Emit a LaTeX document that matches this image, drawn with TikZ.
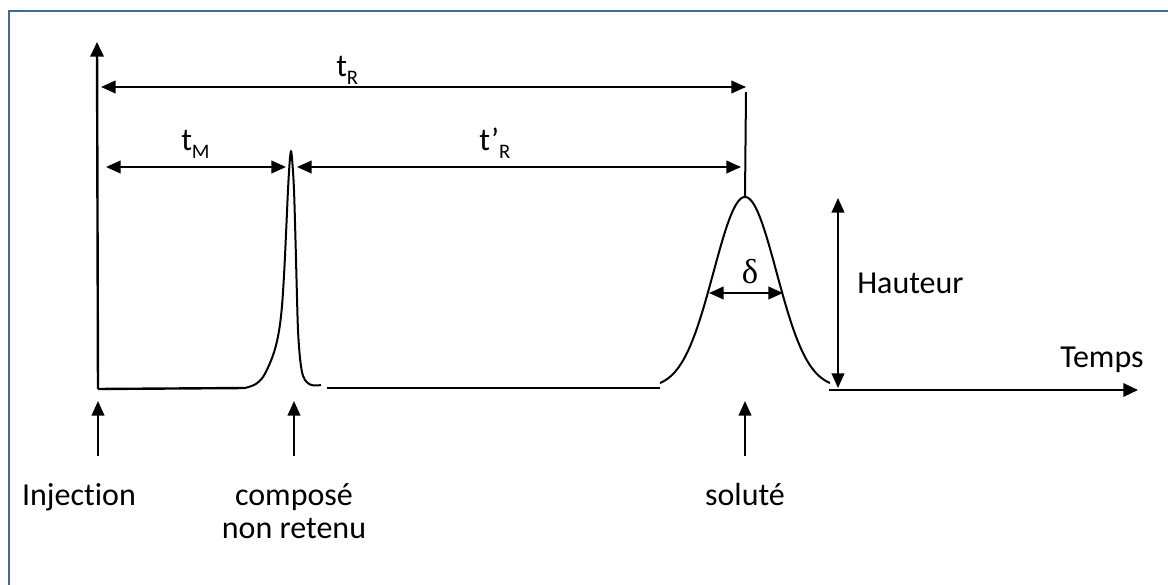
\documentclass[tikz,border=0pt]{standalone}
\usepackage{fontspec}
\setmainfont[Ligatures=NoCommon]{Carlito}
\newfontfamily\greekserif{Liberation Serif}
\usetikzlibrary{arrows.meta}
\definecolor{framecol}{RGB}{65,105,155}
\newcommand\lowsub[1]{\raisebox{-5.5pt}{\fontsize{15.5}{16}\selectfont #1}}
\begin{document}
\begin{tikzpicture}[x=0.75pt,y=-0.75pt,
  curve/.style={line width=1.5pt, line join=round},
  axisline/.style={line width=1.8pt},
  dimarrow/.style={line width=1.5pt, {Triangle[length=11pt,width=9.5pt]}-{Triangle[length=11pt,width=9.5pt]}},
  uparrow/.style={line width=1.5pt, -{Triangle[length=11pt,width=9.5pt]}},
  lbl/.style={font=\fontsize{24}{29}\selectfont, inner sep=0pt},
  ]
\useasboundingbox (0,0) rectangle (1168,585);
\fill[white] (0,0) rectangle (1168,585);
\draw[framecol, line width=2.2pt] (1200,11) -- (9,11) -- (9,620);

% key coordinates
\coordinate (ytop) at (97,42);
\coordinate (origin) at (98,389);
\coordinate (b1) at (245,388);
\coordinate (b2) at (327,388);
\coordinate (b3) at (660,388);
\coordinate (peak2) at (745,197);
\coordinate (tRend) at (746,92);
\coordinate (xs) at (829,390);
\coordinate (xe) at (1138,390);

% axes and baseline
\draw[axisline, -{Triangle[length=11pt,width=10pt]}] (origin) -- (ytop);
\draw[axisline] (origin) -- (b1);
\draw[axisline] (b2) -- (b3);
\draw[axisline, -{Triangle[length=11pt,width=10pt]}] (xs) -- (xe);

% narrow peak (unretained compound)
\draw[curve] plot[smooth, tension=0.55] coordinates {
 (245,388) (255,384.5) (263,377) (270,363) (275,349) (279,331) (282,306)
 (284.3,270) (286.2,230) (288,190) (289.6,163) (291,151) (292.4,163)
 (294,190) (295.5,240) (296.8,290) (298,330) (299.8,356) (302,372)
 (305,380) (310,384.5) (316,385.5) (321,385)};

% solute peak
\draw[curve] plot[domain=660:830, samples=120, smooth] (\x, {388-191*exp(-((\x-745)*(\x-745))/1984.5)});
\draw[line width=1.5pt] (peak2) -- (tRend);

% dimension arrows
\coordinate (tRa) at (101,87);  \coordinate (tRb) at (746,87);
\coordinate (tMa) at (106,167); \coordinate (tMb) at (286,167);
\coordinate (tpa) at (297,167); \coordinate (tpb) at (741,167);
\coordinate (da) at (709,293);  \coordinate (db) at (783,293);
\coordinate (ha) at (838,198);  \coordinate (hb) at (838,388);
\draw[dimarrow] (tRa) -- (tRb);
\draw[dimarrow] (tMa) -- (tMb);
\draw[dimarrow] (tpa) -- (tpb);
\draw[dimarrow] (da) -- (db);
\draw[dimarrow] (ha) -- (hb);

% up arrows
\coordinate (u1a) at (98,456);  \coordinate (u1b) at (98,401);
\coordinate (u2a) at (294,456); \coordinate (u2b) at (294,401);
\coordinate (u3a) at (745,456); \coordinate (u3b) at (745,401);
\draw[uparrow] (u1a) -- (u1b);
\draw[uparrow] (u2a) -- (u2b);
\draw[uparrow] (u3a) -- (u3b);

% labels
\node[lbl, anchor=base west] (ltR) at (336,77) {t\lowsub{R}};
\node[lbl, anchor=base west] (ltM) at (181,151) {t\lowsub{M}};
\node[lbl, anchor=base west] (ltpR) at (479,151) {t’\lowsub{R}};
\node[inner sep=0pt, anchor=base, font=\greekserif\fontsize{26}{28}\selectfont] (ldelta) at (750,283) {δ};
\node[lbl, anchor=base west] (lH) at (857,293) {Hauteur};
\node[lbl, anchor=base west] (lT) at (1060,367) {Temps};
\node[lbl, anchor=base] (linj) at (79,505) {Injection};
\node[lbl, anchor=base] (lcomp) at (294,505) {composé};
\node[lbl, anchor=base] (lnon) at (294,538) {non retenu};
\node[lbl, anchor=base] (lsol) at (745,505) {soluté};
\end{tikzpicture}
\end{document}
